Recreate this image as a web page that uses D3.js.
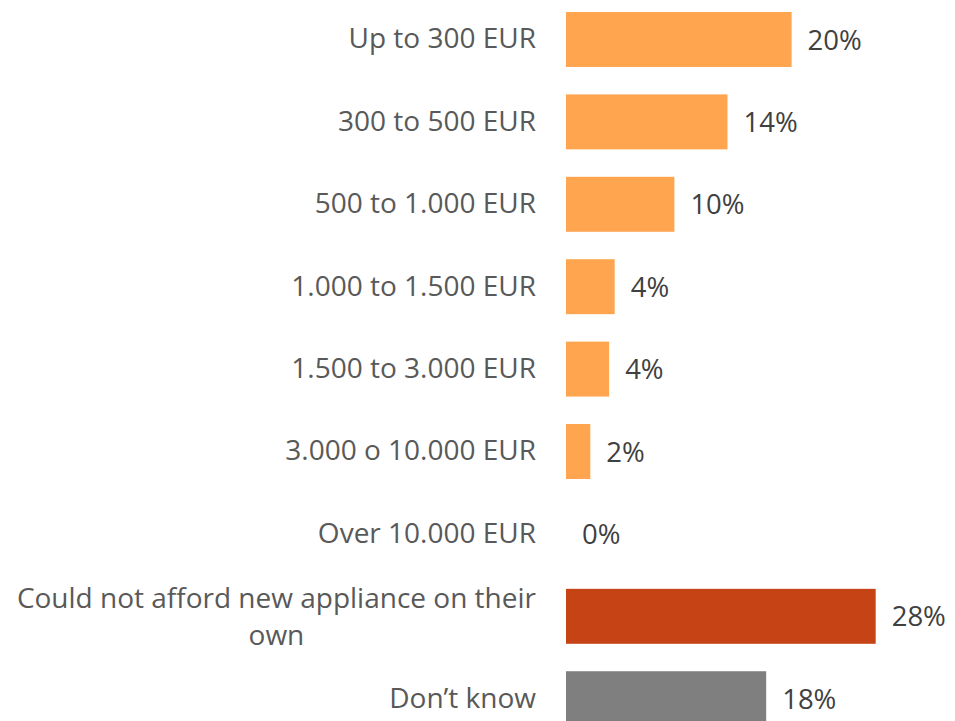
<!DOCTYPE html>
<html>
<head>
<meta charset="utf-8">
<script src="https://cdn.jsdelivr.net/npm/d3@7"></script>
<style>
  html, body { margin: 0; padding: 0; background: #fff; }
  svg { display: block; }
  text { font-family: "Open Sans", sans-serif; }
</style>
</head>
<body>
<svg id="chart"></svg>
<script>
// categories, values (share in %) and shown labels
var categories = [
  "Up to 300 EUR",
  "300 to 500 EUR",
  "500 to 1.000 EUR",
  "1.000 to 1.500 EUR",
  "1.500 to 3.000 EUR",
  "3.000 o 10.000 EUR",
  "Over 10.000 EUR",
  "Could not afford new appliance on their own",
  "Don\u2019t know"
];
var values = [20.4, 14.6, 9.8, 4.4, 3.9, 2.2, 0, 28.0, 18.1];
var valueLabels = ["20%", "14%", "10%", "4%", "4%", "2%", "0%", "28%", "18%"];
var groups = ["amount", "amount", "amount", "amount", "amount", "amount", "amount", "afford", "dontknow"];

var width = 955, height = 721;
var labelSize = 28;

var svg = d3.select("#chart")
    .attr("width", width)
    .attr("height", height);

var color = d3.scaleOrdinal()
    .domain(["amount", "afford", "dontknow"])
    .range(["#FFA54F", "#C54314", "#7F7F7F"]);

var x = d3.scaleLinear()
    .domain([0, 30])
    .range([566, 566 + 331.8]);

var y = d3.scaleBand()
    .domain(categories)
    .range([12, 726.2])
    .paddingInner(0.333)
    .paddingOuter(0);

var rows = categories.map(function(c, i) {
  return {cat: c, value: values[i], label: valueLabels[i], group: groups[i]};
});

// bars
svg.append("g").selectAll("rect")
    .data(rows)
  .enter().append("rect")
    .attr("x", x(0))
    .attr("y", function(d) { return y(d.cat); })
    .attr("width", function(d) { return x(d.value) - x(0); })
    .attr("height", y.bandwidth())
    .attr("fill", function(d) { return color(d.group); });

// value labels
svg.append("g").selectAll("text")
    .data(rows)
  .enter().append("text")
    .attr("x", function(d) { return x(d.value) + 16; })
    .attr("y", function(d) { return y(d.cat) + y.bandwidth() / 2; })
    .attr("dy", "0.37em")
    .attr("fill", "#404040")
    .style("font-size", "27.5px")
    .text(function(d) { return d.label; });

// category axis (no line, no ticks)
var axis = svg.append("g")
    .attr("transform", "translate(" + (x(0) - 30) + ",0)")
    .call(d3.axisLeft(y).tickSize(0).tickPadding(0));
axis.select(".domain").remove();
axis.selectAll("text")
    .attr("fill", "#595959")
    .style("font-size", labelSize + "px")
    .style("font-family", "'Open Sans', sans-serif")
    .call(wrap, 530);

// wrap long labels into centred lines, right-aligned as a block
function wrap(texts, maxWidth) {
  texts.each(function() {
    var text = d3.select(this);
    var words = text.text().split(/\s+/);
    var lines = [], line = [];
    text.text(null);
    var probe = text.append("tspan");
    words.forEach(function(w) {
      line.push(w);
      probe.text(line.join(" "));
      if (probe.node().getComputedTextLength() > maxWidth && line.length > 1) {
        line.pop();
        lines.push(line.join(" "));
        line = [w];
      }
    });
    lines.push(line.join(" "));
    probe.remove();
    if (lines.length === 1) {
      text.text(lines[0]);
      return;
    }
    var widths = lines.map(function(l) {
      var t = text.append("tspan").text(l);
      var wd = t.node().getComputedTextLength();
      t.remove();
      return wd;
    });
    var blockW = d3.max(widths);
    var lh = 37;
    text.attr("text-anchor", "middle");
    lines.forEach(function(l, i) {
      text.append("tspan")
          .attr("x", -blockW / 2)
          .attr("dy", i === 0 ? (0.37 * labelSize - (lines.length - 1) * lh / 2) + "px" : lh + "px")
          .text(l);
    });
    text.attr("dy", null);
  });
}
</script>
</body>
</html>
